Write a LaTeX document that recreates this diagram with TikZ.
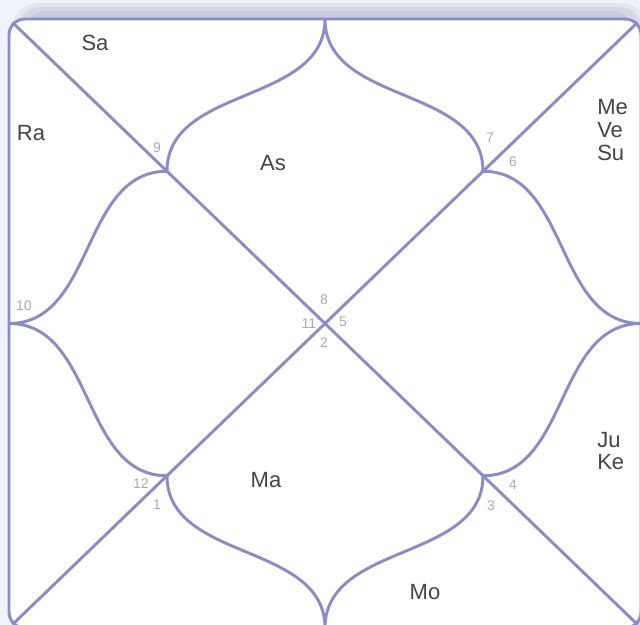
\documentclass[tikz,border=0pt]{standalone}
\usepackage{fontspec}
\setmainfont{Liberation Sans}
\usetikzlibrary{calc}
\definecolor{chartline}{HTML}{8B8BC7}
\definecolor{planet}{HTML}{444448}
\definecolor{housenum}{HTML}{A9A9BA}
\definecolor{pagebg}{HTML}{F0F3FB}
\definecolor{shadeA}{HTML}{E3E6EF}
\definecolor{shadeB}{HTML}{D6D9E5}
\definecolor{shadeC}{HTML}{C8CCDA}

\begin{document}
\begin{tikzpicture}[
  x=0.75pt,y=-0.75pt,
  every node/.style={font=\fontsize{16.5}{17}\selectfont,text=planet,inner sep=0pt},
  num/.style={font=\fontsize{10.5}{12}\selectfont,text=housenum},
  chart/.style={draw=chartline,line width=2.2pt,line join=round}
]
\useasboundingbox (0,0) rectangle (640,625);
\fill[pagebg] (0,0) rectangle (640,625);
% card with its shadow
\fill[shadeA,rounded corners=20] (12,3) rectangle (648,640);
\fill[shadeB,rounded corners=17] (18,7) rectangle (642,640);
\fill[shadeC,rounded corners=14] (26,11) rectangle (632,640);
\fill[white,rounded corners=12] (9,19) rectangle (641,628);

% frame points
\coordinate (tl) at (12.5,22.5);
\coordinate (tr) at (637.5,22.5);
\coordinate (bl) at (12.5,624.5);
\coordinate (br) at (637.5,624.5);
\coordinate (c) at (325,323.5);
\coordinate (top) at (325,19);
\coordinate (left) at (9,323.5);
\coordinate (right) at (641,323.5);
\coordinate (bottom) at (325,628);
\coordinate (h9) at (167,171.25);
\coordinate (h6) at (483,171.25);
\coordinate (h12) at (167,475.75);
\coordinate (h3) at (483,475.75);

\draw[chart,rounded corners=12] (9,19) rectangle (641,628);
\draw[chart] (tl) -- (br);
\draw[chart] (tr) -- (bl);
\draw[chart] (h9) .. controls +(0,-86) and +(0,86) .. (top) .. controls +(0,86) and +(0,-86) .. (h6);
\draw[chart] (h9) .. controls +(-86,0) and +(86,0) .. (left) .. controls +(86,0) and +(-86,0) .. (h12);
\draw[chart] (h6) .. controls +(86,0) and +(-86,0) .. (right) .. controls +(-86,0) and +(86,0) .. (h3);
\draw[chart] (h12) .. controls +(0,86) and +(0,-86) .. (bottom) .. controls +(0,-86) and +(0,86) .. (h3);

% planets
\node (sa) at (95,43) {Sa};
\node (ra) at (31,133) {Ra};
\node (as) at (273,163) {As};
\node[anchor=west,align=left] (mevesu) at (597,130) {Me\\Ve\\Su};
\node[anchor=west,align=left] (juke) at (597,451) {Ju\\Ke};
\node (ma) at (266,480) {Ma};
\node (mo) at (425,592) {Mo};

% house numbers
\node[num] (n1) at (157,505) {1};
\node[num] (n2) at (324,343) {2};
\node[num] (n3) at (491,506) {3};
\node[num] (n4) at (513,485) {4};
\node[num] (n5) at (343,322) {5};
\node[num] (n6) at (513,162) {6};
\node[num] (n7) at (490,138) {7};
\node[num] (n8) at (324,300) {8};
\node[num] (n9) at (157,148) {9};
\node[num] (n10) at (24,306) {10};
\node[num] (n11) at (309,324) {11};
\node[num] (n12) at (141,484) {12};
\end{tikzpicture}
\end{document}
